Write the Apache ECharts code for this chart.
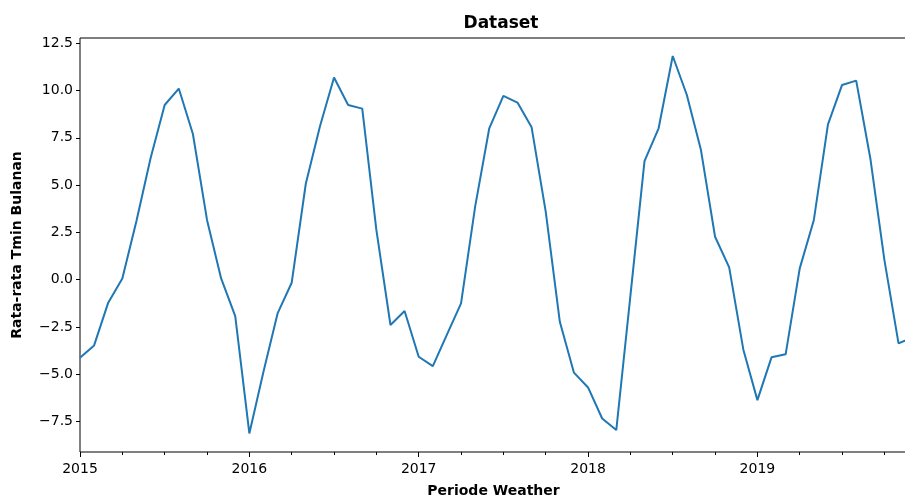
<!DOCTYPE html>
<html>
<head>
<meta charset="utf-8">
<script src="https://cdn.jsdelivr.net/npm/echarts@6/dist/echarts.min.js"></script>
<style>
  html, body { margin: 0; padding: 0; background: #fff; }
  #chart { width: 905px; height: 497px; }
</style>
</head>
<body>
<div id="chart"></div>
<script>
// months since Jan 2015
const startYear = 2015
const tminValues = [
  -4.12, -3.47, -1.21, 0.07, 3.1, 6.42, 9.23, 10.1, 7.7, 3.16, 0.07, -1.92,
  -8.12, -4.86, -1.78, -0.16, 5.07, 8.09, 10.68, 9.23, 9.04, 2.63, -2.39, -1.65,
  -4.07, -4.56, -2.9, -1.25, 3.86, 8.0, 9.71, 9.36, 8.05, 3.6, -2.22, -4.91,
  -5.69, -7.33, -7.94, -0.85, 6.27, 8.0, 11.82, 9.76, 6.85, 2.27, 0.65, -3.68,
  -6.36, -4.1, -3.94, 0.6, 3.16, 8.21, 10.29, 10.52, 6.42, 1.04, -3.36, -3.05
]
const yearTicks = [0, 12, 24, 36, 48]
const quarterTicks = [3, 6, 9, 15, 18, 21, 27, 30, 33, 39, 42, 45, 51, 54, 57]
const yTicks = [-7.5, -5, -2.5, 0, 2.5, 5, 7.5, 10, 12.5]

const font = 'DejaVu Sans'
const chart = echarts.init(document.getElementById('chart'))

const seriesData = tminValues.map((v, i) => [i, v])

chart.setOption({
  animation: false,
  title: {
    text: 'Dataset',
    left: 496,
    top: 10,
    textAlign: 'center',
    textStyle: { fontFamily: font, fontWeight: 'bold', fontSize: 17, color: '#000' }
  },
  grid: {
    left: 80, top: 38, right: -2, bottom: 45,
    outerBoundsMode: 'none',
    containLabel: false,
    show: true, borderColor: '#000', borderWidth: 1, backgroundColor: 'transparent'
  },
  xAxis: [
    {
      type: 'value',
      min: 0,
      max: 58.6,
      splitLine: { show: false },
      axisLine: { show: false, onZero: false },
      axisTick: { show: true, length: 5, lineStyle: { color: '#000' }, customValues: yearTicks },
      axisLabel: {
        customValues: yearTicks,
        formatter: (v) => String(startYear + Math.round(v / 12)),
        fontFamily: font, fontSize: 14, color: '#000', margin: 10
      },
      name: 'Periode Weather',
      nameLocation: 'middle',
      nameGap: 32,
      nameTextStyle: { fontFamily: font, fontWeight: 'bold', fontSize: 14, color: '#000' }
    },
    {
      type: 'value',
      position: 'bottom',
      min: 0,
      max: 58.6,
      splitLine: { show: false },
      axisLine: { show: false, onZero: false },
      axisLabel: { show: false },
      axisTick: { show: true, length: 3, lineStyle: { color: '#000' }, customValues: quarterTicks }
    }
  ],
  yAxis: {
    type: 'value',
    min: -9.1,
    max: 12.77,
    splitLine: { show: false },
    axisLine: { show: false, onZero: false },
    axisTick: { show: true, length: 4, lineStyle: { color: '#000' }, customValues: yTicks },
    axisLabel: {
      customValues: yTicks,
      formatter: (v) => (v < 0 ? '\u2212' : '') + Math.abs(v).toFixed(1),
      fontFamily: font, fontSize: 14, color: '#000', margin: 7
    },
    name: 'Rata-rata Tmin Bulanan',
    nameLocation: 'middle',
    nameGap: 56,
    nameTextStyle: { fontFamily: font, fontWeight: 'bold', fontSize: 14, color: '#000' }
  },
  series: [
    {
      type: 'line',
      data: seriesData,
      showSymbol: false,
      clip: true,
      lineStyle: { color: '#1f77b4', width: 2 },
      itemStyle: { color: '#1f77b4' }
    }
  ]
})
</script>
</body>
</html>
